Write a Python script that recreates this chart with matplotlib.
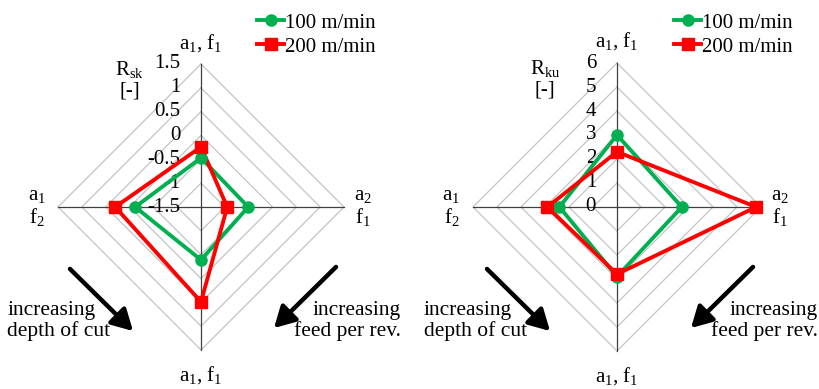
import numpy as np
import matplotlib.pyplot as plt
from matplotlib.lines import Line2D
from matplotlib.patches import FancyArrowPatch

plt.rcParams['font.family'] = ['Liberation Serif', 'DejaVu Serif']
plt.rcParams['mathtext.fontset'] = 'custom'
plt.rcParams['mathtext.rm'] = 'Liberation Serif'
plt.rcParams['mathtext.it'] = 'Liberation Serif:italic'

# spoke order: top, right, bottom, left
labels = ['a$_1$, f$_1$', 'a$_2$\nf$_1$', 'a$_1$, f$_1$', 'a$_1$\nf$_2$']
series = ['100 m/min', '200 m/min']

rsk_ticks = [-1.5, -1, -0.5, 0, 0.5, 1, 1.5]
rsk_labels = ['-1.5', '-1', '-0.5', '0', '0.5', '1', '1.5']
rsk_100 = [-0.47, -0.51, -0.39, -0.12]
rsk_200 = [-0.24, -0.95, 0.49, 0.30]

rku_ticks = [0, 1, 2, 3, 4, 5, 6]
rku_labels = ['0', '1', '2', '3', '4', '5', '6']
rku_100 = [3.0, 2.7, 2.9, 2.4]
rku_200 = [2.3, 5.8, 2.8, 2.9]

green = '#00B050'
red = '#FF0000'
W, H = 820, 389
fig = plt.figure(figsize=(W / 100, H / 100), dpi=100)

angles = np.deg2rad([90, 0, -90, 180])
ca = np.round(np.cos(angles), 6)
sa = np.round(np.sin(angles), 6)
PAD = 0.06


def box(cx, cy, rad):
    half = rad * (1 + PAD)
    return [(cx - half) / W, 1 - (cy + half) / H, 2 * half / W, 2 * half / H]


def radar(bx, ticks, tick_labels, v100, v200, ylab):
    ax = fig.add_axes(bx)
    vmin = ticks[0]
    R = ticks[-1] - vmin
    ax.set_xlim(-R * (1 + PAD), R * (1 + PAD))
    ax.set_ylim(-R * (1 + PAD), R * (1 + PAD))
    ax.axis('off')
    for t in ticks[1:]:
        r = t - vmin
        ax.plot(list(r * ca) + [r * ca[0]], list(r * sa) + [r * sa[0]],
                color='#C4C4C4', lw=0.9, zorder=1)
    for c, s in zip(ca, sa):
        ax.plot([0, R * c], [0, R * s], color='#404040', lw=0.9, zorder=2)
    for t, tl in zip(ticks, tick_labels):
        ax.text(-R * 0.145, t - vmin, tl, ha='right', va='center',
                fontsize=15, zorder=3)
    offs = [(0, 0.15), (0.13, 0), (0, -0.175), (-0.15, 0)]
    for lab, c, s, o in zip(labels, ca, sa, offs):
        ax.text(R * c + R * o[0], R * s + R * o[1], lab, ha='center',
                va='center', multialignment='center', fontsize=15,
                linespacing=1.1)
    for vals, col, mk, ms in [(v100, green, 'o', 8), (v200, red, 's', 9)]:
        r = np.array(vals) - vmin
        x = list(r * ca) + [r[0] * ca[0]]
        y = list(r * sa) + [r[0] * sa[0]]
        ax.plot(x, y, color=col, lw=2.8, zorder=5)
        ax.plot(x[:-1], y[:-1], ls='none', color=col, marker=mk, ms=ms,
                zorder=6)
    ax.text(-R * 0.5, R * 0.89, ylab, ha='center', va='center',
            fontsize=15, linespacing=1.1)
    return ax


ax1 = radar(box(201, 207, 143), rsk_ticks, rsk_labels,
            rsk_100, rsk_200, 'R$_{\\mathrm{sk}}$\n[-]')
ax2 = radar(box(617, 207, 144), rku_ticks, rku_labels,
            rku_100, rku_200, 'R$_{\\mathrm{ku}}$\n[-]')

handles = [Line2D([], [], color=green, lw=2.8, marker='o', ms=8),
           Line2D([], [], color=red, lw=2.8, marker='s', ms=9)]
for x0 in [257, 674]:
    fig.legend(handles, series, loc='upper left',
               bbox_to_anchor=(x0 / W, 1 - 13 / H), frameon=False, fontsize=15,
               handlelength=1.3, handletextpad=0.05, labelspacing=0.22,
               borderaxespad=0, borderpad=0)

for dx in [0, 417]:
    for (x1, y1), (x2, y2) in [((68, 267), (135, 333)), ((338, 265), (272, 330))]:
        fig.add_artist(FancyArrowPatch(((x1 + dx) / W, 1 - y1 / H),
                                       ((x2 + dx) / W, 1 - y2 / H),
                                       transform=fig.transFigure,
                                       arrowstyle='-|>,head_length=0.9,head_width=0.5',
                                       lw=3.2, color='black', mutation_scale=14))
    fig.text((7 + dx) / W, 1 - 321 / H, 'increasing\ndepth of cut', ha='left',
             va='center', fontsize=15.5, linespacing=1.1)
    fig.text((401 + dx) / W, 1 - 321 / H, 'increasing\nfeed per rev.', ha='right',
             va='center', multialignment='right', fontsize=15.5, linespacing=1.1)

fig.savefig('out.png', dpi=100)
